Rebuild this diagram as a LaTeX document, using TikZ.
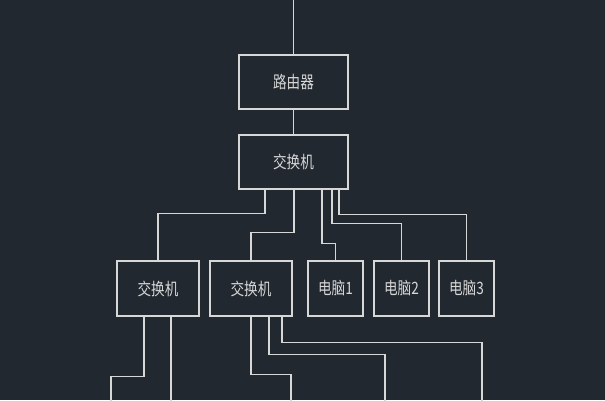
\documentclass[tikz,border=0pt]{standalone}
\usepackage{fontspec}
\setmainfont{Noto Sans CJK SC}
\definecolor{cadbg}{RGB}{33,40,48}
\definecolor{cadline}{RGB}{215,215,215}
\newcommand{\cadtext}[1]{\scalebox{0.8}[1]{#1}}
\tikzstyle{lblock} = [rectangle, draw=cadline, text=cadline, line width=1.2pt, inner sep=0pt, minimum width=109pt, minimum height=54pt]
\tikzstyle{mblock} = [rectangle, draw=cadline, text=cadline, line width=1.2pt, inner sep=0pt, minimum width=82pt, minimum height=55pt]
\tikzstyle{sblock} = [rectangle, draw=cadline, text=cadline, line width=1.2pt, inner sep=0pt, minimum width=55pt, minimum height=55pt]
\tikzstyle{line} = [draw, line width=1.2pt, color=cadline]

\begin{document}
\begin{tikzpicture}[x=1pt, y=1pt, font=\fontsize{17pt}{19pt}\selectfont]
    \fill [cadbg] (0,0) rectangle (605,-400);
    \useasboundingbox (0,0) rectangle (605,-400);
    % Place nodes
    \node [lblock] (router) at (293.5,-82) {\cadtext{路由器}};
    \node [lblock, below of=router, node distance=80pt] (switch) {\cadtext{交换机}};
    \node [mblock] (sw2) at (251,-288.5) {\cadtext{交换机}};
    \node [mblock, left of=sw2, node distance=93pt] (sw1) {\cadtext{交换机}};
    \node [sblock, right of=sw2, node distance=84.5pt] (pc1) {\cadtext{电脑1}};
    \node [sblock, right of=pc1, node distance=66pt] (pc2) {\cadtext{电脑2}};
    \node [sblock, right of=pc2, node distance=65pt] (pc3) {\cadtext{电脑3}};
    \coordinate (uplink) at (294,0); % top edge
    % Draw edges
    \path [line] (router.north) -- (router.north |- uplink);
    \path [line] (router) -- (switch);
    \path [line] ([xshift=-28.5pt]switch.south) -- ++(0,-24) -| (sw1.north);
    \path [line] ([xshift=0.5pt]switch.south) -- ++(0,-43) -| (sw2.north);
    \path [line] ([xshift=28.5pt]switch.south) -- ++(0,-54) -| (pc1.north);
    \path [line] ([xshift=38.5pt]switch.south) -- ++(0,-34) -| (pc2.north);
    \path [line] ([xshift=45.5pt]switch.south) -- ++(0,-25) -| (pc3.north);
    % going on below the picture
    \path [line] ([xshift=-14pt]sw1.south) -- ++(0,-60) -- ++(-33,0) -- ++(0,-24);
    \path [line] ([xshift=13pt]sw1.south) -- ++(0,-84);
    \path [line] (sw2.south) -- ++(0,-58) -- ++(40,0) -- ++(0,-26);
    \path [line] ([xshift=18pt]sw2.south) -- ++(0,-38) -- ++(116,0) -- ++(0,-46);
    \path [line] ([xshift=31pt]sw2.south) -- ++(0,-26) -- ++(200,0) -- ++(0,-58);
\end{tikzpicture}
\end{document}
